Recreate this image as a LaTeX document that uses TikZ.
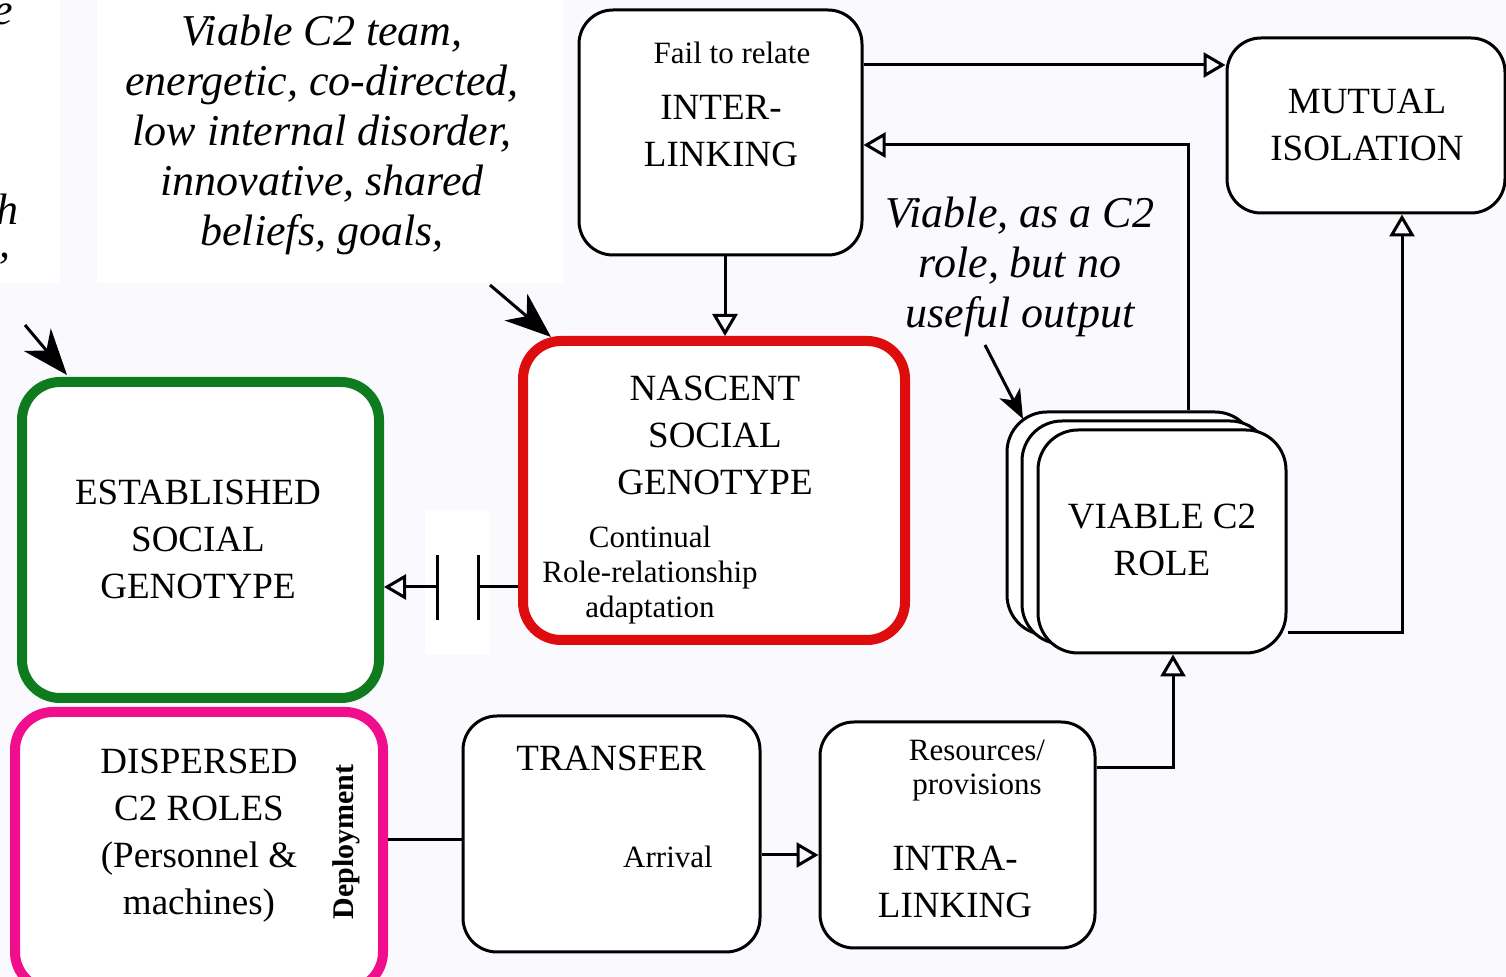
\documentclass[tikz,border=0pt]{standalone}
\usepackage{fontspec}
\setmainfont{Liberation Serif}
\usetikzlibrary{arrows.meta}
\definecolor{bgc}{RGB}{250,250,254}
\definecolor{boxred}{RGB}{222,12,12}
\definecolor{boxgreen}{RGB}{14,124,30}
\definecolor{boxpink}{RGB}{240,14,140}
\begin{document}
\begin{tikzpicture}[x=0.5pt,y=-0.5pt,
  box/.style={draw, line width=1.5pt, rounded corners=17pt, fill=white, inner sep=0pt},
  thickbox/.style={box, line width=5pt, rounded corners=19pt},
  lbl/.style={align=center, inner sep=0pt, font=\fontsize{18.5}{23.5}\selectfont},
  sml/.style={align=center, inner sep=0pt, font=\fontsize{15.5}{17.4}\selectfont},
  note/.style={align=center, inner sep=0pt, font=\fontsize{22}{25}\selectfont\itshape},
  frag/.style={inner sep=0pt, font=\fontsize{22}{25}\selectfont\itshape},
  conn/.style={line width=1.5pt},
  tri/.style={conn, -{Triangle[open, length=11pt, width=12.5pt, line width=1.5pt]}},
  ptr/.style={conn, -{Stealth[length=23pt, width=17.5pt, inset=7pt]}},
  ptrsmall/.style={conn, -{Stealth[length=14.5pt, width=11.5pt, inset=4pt]}}]
\useasboundingbox (0,0) rectangle (1506,977);
\clip (0,0) rectangle (1506,977);
\fill[bgc] (0,0) rectangle (1506,977);
% white panels behind the annotations
\fill[white] (0,0) rectangle (60,283);
\fill[white] (97,0) rectangle (563,283);

% annotation text blocks (the left one runs past the edge)
\node[frag, anchor=base east] (fe) at (13,25) {e};
\node[frag, anchor=base east] (fh) at (19,225) {h};
\node[frag, anchor=base east] (fc) at (11,258) {,};
\node[note] (team) at (322,135) {Viable C2 team,\\energetic, co-directed,\\low internal disorder,\\innovative, shared\\beliefs, goals,};
\node[note] (useless) at (1020,267) {Viable, as a C2\\role, but no\\useful output};

% boxes
\node[box, minimum width=141.5pt, minimum height=122.5pt] (inter) at (720.5,132.5) {};
\node[sml] (fail) at (732,53) {Fail to relate};
\node[lbl] (interT) at (721,131) {INTER-\\LINKING};

\node[box, minimum width=139pt, minimum height=87.5pt] (mut) at (1366,125.5) {};
\node[lbl] (mutT) at (1367,124.5) {MUTUAL\\ISOLATION};

\node[thickbox, draw=boxred, minimum width=191pt, minimum height=149.5pt] (nasc) at (714,490.5) {};
\node[lbl] (nascT) at (715,435) {NASCENT\\SOCIAL\\GENOTYPE};
\node[sml] (adapt) at (650,575) {Continual\\Role-relationship\\adaptation};

\node[thickbox, draw=boxgreen, minimum width=178.5pt, minimum height=158pt] (est) at (200.5,540) {};
\node[lbl] (estT) at (198,539.5) {ESTABLISHED\\SOCIAL\\GENOTYPE};

\node[thickbox, draw=boxpink, minimum width=184pt, minimum height=139pt] (disp) at (199,851) {};
\node[lbl] (dispT) at (199,835.5) {DISPERSED\\C2 ROLES\\(Personnel \&\\machines)};
\node[inner sep=0pt, rotate=90, font=\fontsize{15}{17}\selectfont\bfseries] (deploy) at (346,842) {Deployment};

\node[box, minimum width=148.5pt, minimum height=118pt] (trans) at (611.5,834) {};
\node[lbl] (transT) at (611,758) {TRANSFER};
\node[sml] (arrive) at (668,857) {Arrival};

\node[box, minimum width=137.5pt, minimum height=113pt] (intra) at (957.5,835) {};
\node[sml] (res) at (977,770.5) {Resources/\\provisions};
\node[lbl] (intraT) at (955,881.5) {INTRA-\\LINKING};

% stacked viable role boxes
\node[box, rounded corners=20pt, minimum width=124pt, minimum height=111.5pt] (vback) at (1131,523.5) {};
\node[box, rounded corners=20pt, minimum width=124pt, minimum height=111.5pt] (vmid) at (1146,532.5) {};
\node[box, rounded corners=20pt, minimum width=124pt, minimum height=111.5pt] (vfront) at (1162,541.5) {};
\node[lbl] (vT) at (1162,540) {VIABLE C2\\ROLE};

% connectors
\draw[tri] (inter.east |- 0,65) -- (mut.west |- 0,65);
\draw[tri] (vback.north -| 1188,0) |- (inter.east |- 0,145);
\draw[tri] (inter.south -| 725,0) -- (nasc.north -| 725,0);
\draw[tri] (vfront.east |- 0,633) -| (mut.south -| 1402,0);
\draw[conn] (disp.east |- 0,840) -- (trans.west |- 0,840);
\draw[tri] (trans.east |- 0,855) -- (intra.west |- 0,855);
\draw[tri] (intra.east |- 0,768) -| (vfront.south -| 1173,0);

% broken link from nascent to established genotype
\fill[white] (425,510) rectangle (490,655);
\coordinate (brkR) at (478,587);
\coordinate (brkL) at (437,587);
\draw[conn] (nasc.west |- brkR) -- (brkR);
\draw[tri] (brkL) -- (est.east |- brkL);
\draw[conn] (478,555) -- (478,620);
\draw[conn] (437,555) -- (437,620);

% pointers from annotations
\coordinate (pa1) at (25,325);
\coordinate (pb1) at (67,375);
\draw[ptr] (pa1) -- (pb1);
\coordinate (pa2) at (490,285);
\coordinate (pb2) at (551,337);
\draw[ptr] (pa2) -- (pb2);
\coordinate (pa3) at (985,345);
\coordinate (pb3) at (1023,419);
\draw[ptrsmall] (pa3) -- (pb3);
\end{tikzpicture}
\end{document}
